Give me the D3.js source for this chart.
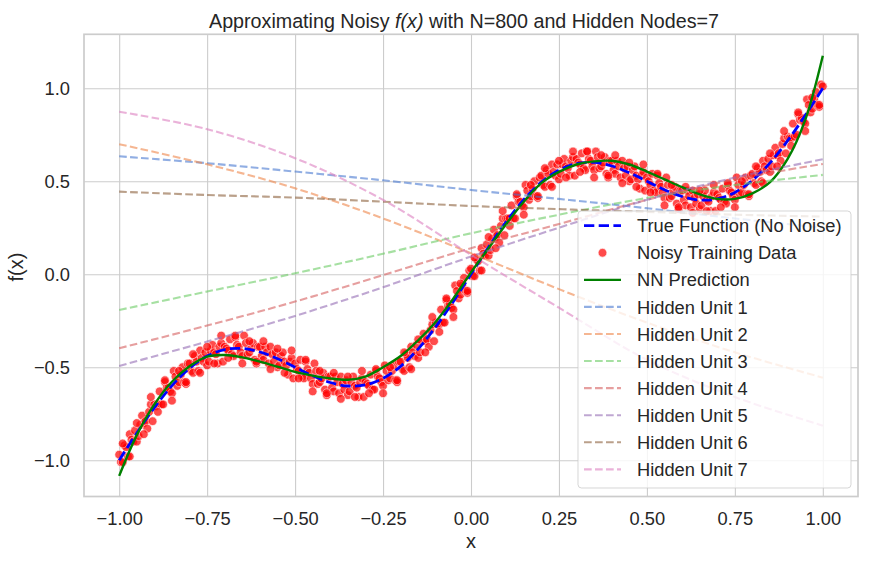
<!DOCTYPE html>
<html><head><meta charset="utf-8">
<script src="https://cdn.jsdelivr.net/npm/d3@7"></script>
<style>
body{margin:0;background:#fff}
svg{display:block}
text{font-family:"Liberation Sans",Arial,sans-serif;fill:#262626}
</style>
</head><body>
<svg id="chart" width="869" height="563"></svg>
<script>
// ---------- data ----------
const titleText = ["Approximating Noisy ", "f(x)", " with N=800 and Hidden Nodes=7"];
const xLabel = "x";
const yLabel = "f(x)";
const xTicks = [-1, -0.75, -0.5, -0.25, 0, 0.25, 0.5, 0.75, 1];
const xTickLabels = ["\u22121.00", "\u22120.75", "\u22120.50", "\u22120.25", "0.00", "0.25", "0.50", "0.75", "1.00"];
const yTicks = [-1, -0.5, 0, 0.5, 1];
const yTickLabels = ["\u22121.0", "\u22120.5", "0.0", "0.5", "1.0"];

const curveX = [-1,-0.95,-0.9,-0.85,-0.8,-0.75,-0.7,-0.65,-0.6,-0.55,-0.5,-0.45,-0.4,-0.35,-0.3,-0.25,-0.2,-0.15,-0.1,-0.05,0,
  0.05,0.1,0.15,0.2,0.25,0.3,0.35,0.4,0.45,0.5,0.55,0.6,0.65,0.7,0.75,0.8,0.85,0.9,0.95,1];
const trueY = [-1.000,-0.854,-0.718,-0.599,-0.505,-0.440,-0.405,-0.399,-0.418,-0.454,-0.500,-0.546,-0.582,-0.601,-0.595,-0.560,-0.495,-0.401,-0.282,-0.146,0,
  0.146,0.282,0.401,0.495,0.560,0.595,0.601,0.582,0.546,0.500,0.454,0.418,0.399,0.405,0.440,0.505,0.599,0.718,0.854,1.000];
const nnY = [-1.084,-0.865,-0.700,-0.578,-0.495,-0.443,-0.434,-0.447,-0.470,-0.497,-0.525,-0.545,-0.560,-0.567,-0.550,-0.500,-0.440,-0.355,-0.255,-0.130,0.010,
  0.140,0.270,0.390,0.490,0.550,0.590,0.607,0.610,0.590,0.552,0.510,0.468,0.430,0.405,0.405,0.435,0.495,0.620,0.830,1.175];

const unitX = [-1, -0.75, -0.5, -0.25, 0, 0.25, 0.5, 0.75, 1];
const hidden1 = [0.634, 0.597, 0.552, 0.505, 0.453, 0.405, 0.355, 0.300, 0.250];
const hidden2 = [0.699, 0.591, 0.462, 0.300, 0.113, -0.080, -0.260, -0.420, -0.556];
const hidden3 = [-0.192, -0.093, 0.005, 0.110, 0.220, 0.320, 0.410, 0.480, 0.534];
const hidden4 = [-0.398, -0.276, -0.147, -0.005, 0.140, 0.270, 0.400, 0.510, 0.593];
const hidden5 = [-0.493, -0.362, -0.224, -0.070, 0.095, 0.250, 0.400, 0.520, 0.618];
const hidden6 = [0.444, 0.426, 0.412, 0.390, 0.367, 0.350, 0.335, 0.320, 0.310];
const hidden7 = [0.874, 0.780, 0.624, 0.400, 0.104, -0.180, -0.460, -0.660, -0.814];

const noisyData = [
[-1.00,-0.97],[-0.995,-1.01],[-0.99,-1.01],[-0.985,-0.92],[-0.98,-0.93],[-0.975,-0.98],[-0.97,-0.86],[-0.965,-0.89],
[-0.96,-0.90],[-0.955,-0.84],[-0.95,-0.90],[-0.945,-0.87],[-0.94,-0.81],[-0.935,-0.76],[-0.93,-0.80],[-0.925,-0.79],
[-0.92,-0.83],[-0.915,-0.74],[-0.91,-0.70],[-0.905,-0.79],[-0.90,-0.70],[-0.895,-0.71],[-0.89,-0.70],[-0.885,-0.63],
[-0.88,-0.70],[-0.875,-0.70],[-0.87,-0.58],[-0.865,-0.61],[-0.86,-0.61],[-0.855,-0.63],[-0.85,-0.64],[-0.845,-0.52],
[-0.84,-0.55],[-0.835,-0.60],[-0.83,-0.58],[-0.825,-0.54],[-0.82,-0.50],[-0.815,-0.58],[-0.81,-0.59],[-0.805,-0.48],
[-0.80,-0.48],[-0.795,-0.52],[-0.79,-0.53],[-0.785,-0.44],[-0.78,-0.47],[-0.775,-0.52],[-0.77,-0.41],[-0.765,-0.45],
[-0.76,-0.47],[-0.755,-0.42],[-0.75,-0.49],[-0.745,-0.47],[-0.74,-0.41],[-0.735,-0.38],[-0.73,-0.42],[-0.725,-0.43],
[-0.72,-0.48],[-0.715,-0.39],[-0.71,-0.37],[-0.705,-0.47],[-0.70,-0.39],[-0.695,-0.40],[-0.69,-0.41],[-0.685,-0.35],
[-0.68,-0.43],[-0.675,-0.44],[-0.67,-0.34],[-0.665,-0.38],[-0.66,-0.39],[-0.655,-0.42],[-0.65,-0.44],[-0.645,-0.33],
[-0.64,-0.37],[-0.635,-0.43],[-0.63,-0.42],[-0.625,-0.40],[-0.62,-0.37],[-0.615,-0.46],[-0.61,-0.48],[-0.605,-0.39],
[-0.60,-0.39],[-0.595,-0.44],[-0.59,-0.46],[-0.585,-0.39],[-0.58,-0.42],[-0.575,-0.48],[-0.57,-0.39],[-0.565,-0.43],
[-0.56,-0.47],[-0.555,-0.42],[-0.55,-0.50],[-0.545,-0.49],[-0.54,-0.44],[-0.535,-0.42],[-0.53,-0.47],[-0.525,-0.49],
[-0.52,-0.54],[-0.515,-0.47],[-0.51,-0.45],[-0.505,-0.56],[-0.50,-0.48],[-0.495,-0.51],[-0.49,-0.52],[-0.485,-0.46],
[-0.48,-0.55],[-0.475,-0.56],[-0.47,-0.47],[-0.465,-0.51],[-0.46,-0.53],[-0.455,-0.56],[-0.45,-0.59],[-0.445,-0.48],
[-0.44,-0.52],[-0.435,-0.59],[-0.43,-0.58],[-0.425,-0.56],[-0.42,-0.53],[-0.415,-0.62],[-0.41,-0.65],[-0.405,-0.55],
[-0.40,-0.55],[-0.395,-0.61],[-0.39,-0.63],[-0.385,-0.55],[-0.38,-0.58],[-0.375,-0.64],[-0.37,-0.55],[-0.365,-0.59],
[-0.36,-0.62],[-0.355,-0.57],[-0.35,-0.65],[-0.345,-0.63],[-0.34,-0.58],[-0.335,-0.55],[-0.33,-0.60],[-0.325,-0.61],
[-0.32,-0.66],[-0.315,-0.58],[-0.31,-0.56],[-0.305,-0.66],[-0.30,-0.58],[-0.295,-0.59],[-0.29,-0.60],[-0.285,-0.54],
[-0.28,-0.62],[-0.275,-0.62],[-0.27,-0.52],[-0.265,-0.55],[-0.26,-0.56],[-0.255,-0.58],[-0.25,-0.60],[-0.245,-0.49],
[-0.24,-0.52],[-0.235,-0.57],[-0.23,-0.56],[-0.225,-0.52],[-0.22,-0.49],[-0.215,-0.57],[-0.21,-0.58],[-0.205,-0.47],
[-0.20,-0.47],[-0.195,-0.51],[-0.19,-0.52],[-0.185,-0.43],[-0.18,-0.45],[-0.175,-0.50],[-0.17,-0.39],[-0.165,-0.42],
[-0.16,-0.44],[-0.155,-0.38],[-0.15,-0.45],[-0.145,-0.42],[-0.14,-0.36],[-0.135,-0.32],[-0.13,-0.36],[-0.125,-0.35],
[-0.12,-0.39],[-0.115,-0.30],[-0.11,-0.27],[-0.105,-0.36],[-0.10,-0.26],[-0.095,-0.27],[-0.09,-0.27],[-0.085,-0.19],
[-0.08,-0.26],[-0.075,-0.26],[-0.07,-0.14],[-0.065,-0.17],[-0.06,-0.16],[-0.055,-0.18],[-0.05,-0.19],[-0.045,-0.06],
[-0.04,-0.09],[-0.035,-0.13],[-0.03,-0.11],[-0.025,-0.06],[-0.02,-0.02],[-0.015,-0.09],[-0.01,-0.10],[-0.005,0.02],
[0.00,0.03],[0.005,-0.01],[0.01,-0.01],[0.015,0.08],[0.02,0.07],[0.025,0.02],[0.03,0.14],[0.035,0.11],
[0.04,0.10],[0.045,0.16],[0.05,0.10],[0.055,0.13],[0.06,0.19],[0.065,0.24],[0.07,0.20],[0.075,0.21],
[0.08,0.17],[0.085,0.26],[0.09,0.30],[0.095,0.21],[0.10,0.30],[0.105,0.30],[0.11,0.30],[0.115,0.37],
[0.12,0.30],[0.125,0.30],[0.13,0.42],[0.135,0.39],[0.14,0.39],[0.145,0.37],[0.15,0.36],[0.155,0.48],
[0.16,0.45],[0.165,0.40],[0.17,0.42],[0.175,0.46],[0.18,0.50],[0.185,0.42],[0.19,0.41],[0.195,0.52],
[0.20,0.53],[0.205,0.48],[0.21,0.47],[0.215,0.56],[0.22,0.54],[0.225,0.48],[0.23,0.59],[0.235,0.55],
[0.24,0.53],[0.245,0.59],[0.25,0.51],[0.255,0.54],[0.26,0.59],[0.265,0.62],[0.27,0.58],[0.275,0.57],
[0.28,0.53],[0.285,0.61],[0.29,0.63],[0.295,0.53],[0.30,0.62],[0.305,0.60],[0.31,0.59],[0.315,0.65],
[0.32,0.57],[0.325,0.56],[0.33,0.66],[0.335,0.62],[0.34,0.61],[0.345,0.58],[0.35,0.56],[0.355,0.66],
[0.36,0.63],[0.365,0.57],[0.37,0.58],[0.375,0.60],[0.38,0.63],[0.385,0.54],[0.39,0.52],[0.395,0.61],
[0.40,0.61],[0.405,0.56],[0.41,0.54],[0.415,0.61],[0.42,0.58],[0.425,0.52],[0.43,0.61],[0.435,0.57],
[0.44,0.53],[0.445,0.58],[0.45,0.50],[0.455,0.51],[0.46,0.56],[0.465,0.58],[0.47,0.53],[0.475,0.51],
[0.48,0.46],[0.485,0.53],[0.49,0.55],[0.495,0.45],[0.50,0.52],[0.505,0.50],[0.51,0.48],[0.515,0.54],
[0.52,0.45],[0.525,0.44],[0.53,0.53],[0.535,0.49],[0.54,0.47],[0.545,0.44],[0.55,0.41],[0.555,0.52],
[0.56,0.48],[0.565,0.41],[0.57,0.42],[0.575,0.45],[0.58,0.47],[0.585,0.38],[0.59,0.35],[0.595,0.45],
[0.60,0.45],[0.605,0.40],[0.61,0.37],[0.615,0.45],[0.62,0.42],[0.625,0.36],[0.63,0.45],[0.635,0.41],
[0.64,0.38],[0.645,0.43],[0.65,0.35],[0.655,0.37],[0.66,0.42],[0.665,0.45],[0.67,0.40],[0.675,0.39],
[0.68,0.34],[0.685,0.42],[0.69,0.44],[0.695,0.34],[0.70,0.43],[0.705,0.41],[0.71,0.40],[0.715,0.46],
[0.72,0.39],[0.725,0.38],[0.73,0.48],[0.735,0.45],[0.74,0.44],[0.745,0.42],[0.75,0.40],[0.755,0.52],
[0.76,0.48],[0.765,0.43],[0.77,0.44],[0.775,0.48],[0.78,0.52],[0.785,0.43],[0.79,0.42],[0.795,0.53],
[0.80,0.54],[0.805,0.49],[0.81,0.48],[0.815,0.57],[0.82,0.55],[0.825,0.50],[0.83,0.61],[0.835,0.58],
[0.84,0.56],[0.845,0.62],[0.85,0.55],[0.855,0.58],[0.86,0.64],[0.865,0.68],[0.87,0.64],[0.875,0.65],
[0.88,0.61],[0.885,0.70],[0.89,0.73],[0.895,0.65],[0.90,0.74],[0.905,0.73],[0.91,0.73],[0.915,0.81],
[0.92,0.74],[0.925,0.75],[0.93,0.86],[0.935,0.83],[0.94,0.84],[0.945,0.82],[0.95,0.81],[0.955,0.94],
[0.96,0.91],[0.965,0.87],[0.97,0.89],[0.975,0.94],[0.98,0.98],[0.985,0.91],[0.99,0.90],[0.995,1.02],
[1.00,1.01],
[-0.99,-0.91],[-0.97,-0.98],[-0.95,-0.80],[-0.93,-0.86],[-0.91,-0.66],[-0.89,-0.74],[-0.87,-0.57],[-0.85,-0.68],
[-0.83,-0.52],[-0.81,-0.58],[-0.79,-0.43],[-0.77,-0.53],[-0.75,-0.39],[-0.73,-0.48],[-0.71,-0.33],[-0.69,-0.45],
[-0.67,-0.33],[-0.65,-0.48],[-0.63,-0.36],[-0.61,-0.47],[-0.59,-0.36],[-0.57,-0.51],[-0.55,-0.40],[-0.53,-0.53],
[-0.51,-0.41],[-0.49,-0.56],[-0.47,-0.46],[-0.45,-0.63],[-0.43,-0.52],[-0.41,-0.64],[-0.39,-0.53],[-0.37,-0.67],
[-0.35,-0.55],[-0.33,-0.66],[-0.31,-0.52],[-0.29,-0.64],[-0.27,-0.51],[-0.25,-0.64],[-0.23,-0.50],[-0.21,-0.57],
[-0.19,-0.42],[-0.17,-0.51],[-0.15,-0.35],[-0.13,-0.42],[-0.11,-0.23],[-0.09,-0.31],[-0.07,-0.13],[-0.05,-0.23],
[-0.03,-0.05],[-0.01,-0.09],[0.01,0.09],[0.03,0.02],[0.05,0.20],[0.07,0.14],[0.09,0.34],[0.11,0.26],
[0.13,0.43],[0.15,0.32],[0.17,0.48],[0.19,0.42],[0.21,0.57],[0.23,0.47],[0.25,0.61],[0.27,0.52],
[0.29,0.66],[0.31,0.55],[0.33,0.66],[0.35,0.52],[0.37,0.64],[0.39,0.53],[0.41,0.64],[0.43,0.49],
[0.45,0.60],[0.47,0.47],[0.49,0.59],[0.51,0.44],[0.53,0.54],[0.55,0.37],[0.57,0.48],[0.59,0.36],
[0.61,0.47],[0.63,0.33],[0.65,0.45],[0.67,0.34],[0.69,0.48],[0.71,0.36],[0.73,0.49],[0.75,0.36],
[0.77,0.50],[0.79,0.43],[0.81,0.58],[0.83,0.49],[0.85,0.65],[0.87,0.58],[0.89,0.77],[0.91,0.69],
[0.93,0.87],[0.95,0.77],[0.97,0.95],[0.99,0.91]
];

const legendLabels = ["True Function (No Noise)", "Noisy Training Data", "NN Prediction",
  "Hidden Unit 1", "Hidden Unit 2", "Hidden Unit 3", "Hidden Unit 4", "Hidden Unit 5", "Hidden Unit 6", "Hidden Unit 7"];

// ---------- styles / layout ----------
const unitColors = ["#4878d0", "#ee854a", "#6acc64", "#d65f5f", "#956cb4", "#8c613c", "#dc7ec0"];
const gridColor = "#cccccc";
const plot = {left: 84, right: 858, top: 34.3, bottom: 496.5};

const svg = d3.select("#chart");
svg.append("rect").attr("width", 869).attr("height", 563).attr("fill", "#fff");

const x = d3.scaleLinear().domain([-1.1, 1.1]).range([plot.left, plot.right]);
const y = d3.scaleLinear().domain([-1.195, 1.290]).range([plot.bottom, plot.top]);

// grid + tick labels via axes
const gx = svg.append("g").attr("transform", `translate(0,${plot.bottom})`)
  .call(d3.axisBottom(x).tickValues(xTicks).tickSize(-(plot.bottom - plot.top)).tickPadding(15.5)
    .tickFormat((d, i) => xTickLabels[i]));
const gy = svg.append("g").attr("transform", `translate(${plot.left},0)`)
  .call(d3.axisLeft(y).tickValues(yTicks).tickSize(-(plot.right - plot.left)).tickPadding(14)
    .tickFormat((d, i) => yTickLabels[i]));
[gx, gy].forEach(g => {
  g.select(".domain").remove();
  g.selectAll(".tick line").attr("stroke", gridColor).attr("stroke-width", 1.1);
  g.selectAll(".tick text").attr("font-size", 18.3).attr("fill", "#262626")
    .attr("font-family", '"Liberation Sans",Arial,sans-serif');
});
gy.selectAll(".tick text").attr("dy", "0.32em");

// scatter
svg.append("g").selectAll("circle").data(noisyData).join("circle")
  .attr("cx", d => x(d[0])).attr("cy", d => y(d[1])).attr("r", 4.4)
  .attr("fill", "red").attr("stroke", "#fff").attr("stroke-width", 0.7).attr("opacity", 0.7);

const lineGen = d3.line().curve(d3.curveCatmullRom.alpha(0.5));
// true function
svg.append("path").attr("d", lineGen(curveX.map((v, i) => [x(v), y(trueY[i])])))
  .attr("fill", "none").attr("stroke", "#0000ff").attr("stroke-width", 2.8).attr("stroke-dasharray", "10.3,4.4");
// NN prediction
svg.append("path").attr("d", lineGen(curveX.map((v, i) => [x(v), y(nnY[i])])))
  .attr("fill", "none").attr("stroke", "#008000").attr("stroke-width", 2.4);
// hidden units
const hiddenUnits = [hidden1, hidden2, hidden3, hidden4, hidden5, hidden6, hidden7];
hiddenUnits.forEach((vals, k) => {
  svg.append("path").attr("d", lineGen(unitX.map((v, i) => [x(v), y(vals[i])])))
    .attr("fill", "none").attr("stroke", unitColors[k]).attr("stroke-width", 2.1)
    .attr("stroke-dasharray", "7.7,3.3").attr("stroke-opacity", 0.6);
});

// spines
svg.append("rect").attr("x", plot.left).attr("y", plot.top)
  .attr("width", plot.right - plot.left).attr("height", plot.bottom - plot.top)
  .attr("fill", "none").attr("stroke", gridColor).attr("stroke-width", 1.7);

// title and axis labels
const title = svg.append("text").attr("x", 464).attr("y", 28).attr("text-anchor", "middle").attr("font-size", 19.7);
title.append("tspan").text(titleText[0]);
title.append("tspan").attr("font-style", "italic").text(titleText[1]);
title.append("tspan").text(titleText[2]);
svg.append("text").attr("x", 471).attr("y", 548.3).attr("text-anchor", "middle").attr("font-size", 20).text(xLabel);
svg.append("text").attr("transform", "translate(23,267) rotate(-90)").attr("text-anchor", "middle")
  .attr("font-size", 20).text(yLabel);

// legend
const lg = svg.append("g");
lg.append("rect").attr("x", 578).attr("y", 211).attr("width", 273).attr("height", 277).attr("rx", 3.5)
  .attr("fill", "#fff").attr("fill-opacity", 0.8).attr("stroke", gridColor).attr("stroke-opacity", 0.8).attr("stroke-width", 1);
const rowY = k => 225.7 + k * 27.07;
legendLabels.forEach((lab, k) => {
  const yy = rowY(k);
  if (k === 0) {
    lg.append("line").attr("x1", 584).attr("x2", 621).attr("y1", yy).attr("y2", yy)
      .attr("stroke", "#0000ff").attr("stroke-width", 2.8).attr("stroke-dasharray", "10.3,4.4");
  } else if (k === 1) {
    lg.append("circle").attr("cx", 602.5).attr("cy", yy).attr("r", 4.4).attr("fill", "red")
      .attr("stroke", "#fff").attr("stroke-width", 0.7).attr("opacity", 0.7);
  } else if (k === 2) {
    lg.append("line").attr("x1", 584).attr("x2", 621).attr("y1", yy).attr("y2", yy)
      .attr("stroke", "#008000").attr("stroke-width", 2.4);
  } else {
    lg.append("line").attr("x1", 584).attr("x2", 621).attr("y1", yy).attr("y2", yy)
      .attr("stroke", unitColors[k - 3]).attr("stroke-width", 2.1).attr("stroke-dasharray", "7.7,3.3")
      .attr("stroke-opacity", 0.6);
  }
  lg.append("text").attr("x", 637).attr("y", yy + 6.6).attr("font-size", 18.3).text(lab);
});
</script>
</body></html>
